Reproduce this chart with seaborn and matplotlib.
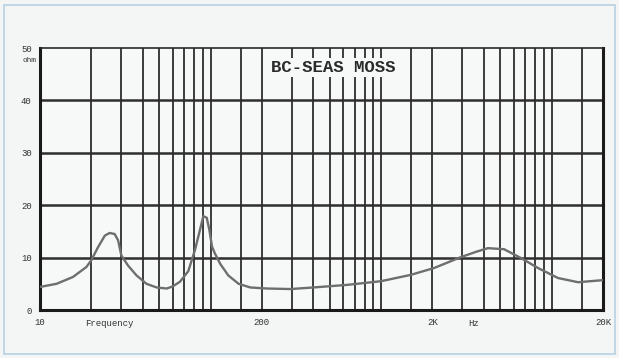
"""Courbe d'impédance BC-SEAS MOSS (reproduction d'un relevé scanné)."""

import matplotlib

matplotlib.use("Agg")
import matplotlib.pyplot as plt
import pandas as pd
import seaborn as sns
from matplotlib.patches import Rectangle

# Fréquence (Hz) et impédance (ohm)
freq_hz = [10, 12.5, 15.6, 18.7, 20, 21.9, 24, 25.6, 27.4, 28.7, 30, 32.8, 36.8,
           42.1, 48.3, 55.3, 60, 66.2, 74, 81.1, 86.7, 90.7, 95, 98.4, 102, 106,
           114, 127, 146, 171, 214, 294, 401, 635, 1000, 1490, 2040, 2940, 3600,
           4230, 5260, 6620, 8330, 10900, 14300, 20000]
impedance_ohm = [4.4, 5.0, 6.3, 8.2, 9.5, 12.0, 14.2, 14.7, 14.5, 13.3, 10.4, 8.5, 6.6,
                 5.0, 4.3, 4.1, 4.5, 5.4, 7.4, 11.5, 15.3, 17.9, 17.6, 15.3, 12.1, 10.8,
                 8.8, 6.6, 5.0, 4.3, 4.1, 4.0, 4.3, 4.8, 5.5, 6.7, 8.0, 10.1, 11.1,
                 11.8, 11.6, 9.9, 8.0, 6.1, 5.3, 5.7]

# Grille verticale du papier (log, avec lignes 150 / 1500 / 15000)
x_grid = [20, 30, 40, 50, 60, 70, 80, 90, 100, 150, 200, 300, 400, 500, 600, 700,
          800, 900, 1000, 1500, 2000, 3000, 4000, 5000, 6000, 7000, 8000, 9000,
          10000, 15000]
y_grid = [10, 20, 30, 40]

x_ticks = [10, 200, 2000, 20000]
x_tick_labels = ["10", "200", "2K", "20K"]
y_ticks = [0, 10, 20, 30, 40, 50]
y_tick_labels = ["0", "10", "20", "30", "40", "50"]

title = "BC-SEAS MOSS"


def main() -> None:
    sns.set_theme(style="white")
    plt.rcParams["font.family"] = ["Liberation Mono", "DejaVu Sans Mono"]

    df = pd.DataFrame({"freq": freq_hz, "ohm": impedance_ohm})

    fig = plt.figure(figsize=(6.19, 3.58), dpi=100, facecolor="#f4f5f5")
    ax = fig.add_axes([40 / 619, 1 - 310 / 358, 563 / 619, 262 / 358])
    ax.set_facecolor("#f7f8f8")

    # cadre bleu clair du scan
    fig.patches.append(Rectangle((0.007, 0.012), 0.986, 0.975, transform=fig.transFigure,
                                 fill=False, edgecolor="#b8d2e2", linewidth=1.2))

    for xv in x_grid:
        ax.axvline(xv, color="#3c3c3c", linewidth=1.4, zorder=1)
    for yv in y_grid:
        ax.axhline(yv, color="#2e2e2e", linewidth=1.8, zorder=1)

    sns.lineplot(data=df, x="freq", y="ohm", color="#6e6e6e", linewidth=1.7,
                 ax=ax, zorder=3)

    ax.set_xscale("log")
    ax.set_xlim(10, 20000)
    ax.set_ylim(0, 50)
    ax.set_xticks(x_ticks)
    ax.set_xticklabels(x_tick_labels)
    ax.set_xticks([], minor=True)
    ax.set_yticks(y_ticks)
    ax.set_yticklabels(y_tick_labels)
    ax.tick_params(axis="both", labelsize=6.5, colors="#333333", length=3,
                   width=1, direction="out", pad=3)
    ax.tick_params(axis="x", length=0, pad=6)
    ax.set_xlabel("")
    ax.set_ylabel("")

    for side in ["left", "right", "bottom"]:
        ax.spines[side].set_linewidth(2.2)
        ax.spines[side].set_color("#1a1a1a")
    ax.spines["top"].set_linewidth(1.2)
    ax.spines["top"].set_color("#2a2a2a")

    ax.text(0.52, 0.925, title, transform=ax.transAxes, ha="center", va="center",
            fontsize=12.5, fontweight="bold", color="#2a2a2a", zorder=5,
            bbox=dict(facecolor="#f7f8f8", edgecolor="none", pad=1.5))
    fig.text(22 / 619, 1 - 60 / 358, "ohm", fontsize=5.5, color="#333333",
             ha="left", va="center")
    fig.text(85 / 619, 1 - 324 / 358, "Frequency", fontsize=6.5, color="#333333",
             ha="left", va="center")
    fig.text(468 / 619, 1 - 324 / 358, "Hz", fontsize=6.5, color="#333333",
             ha="left", va="center")

    fig.savefig("out.png", dpi=100, facecolor=fig.get_facecolor())
    plt.close(fig)


if __name__ == "__main__":
    main()
